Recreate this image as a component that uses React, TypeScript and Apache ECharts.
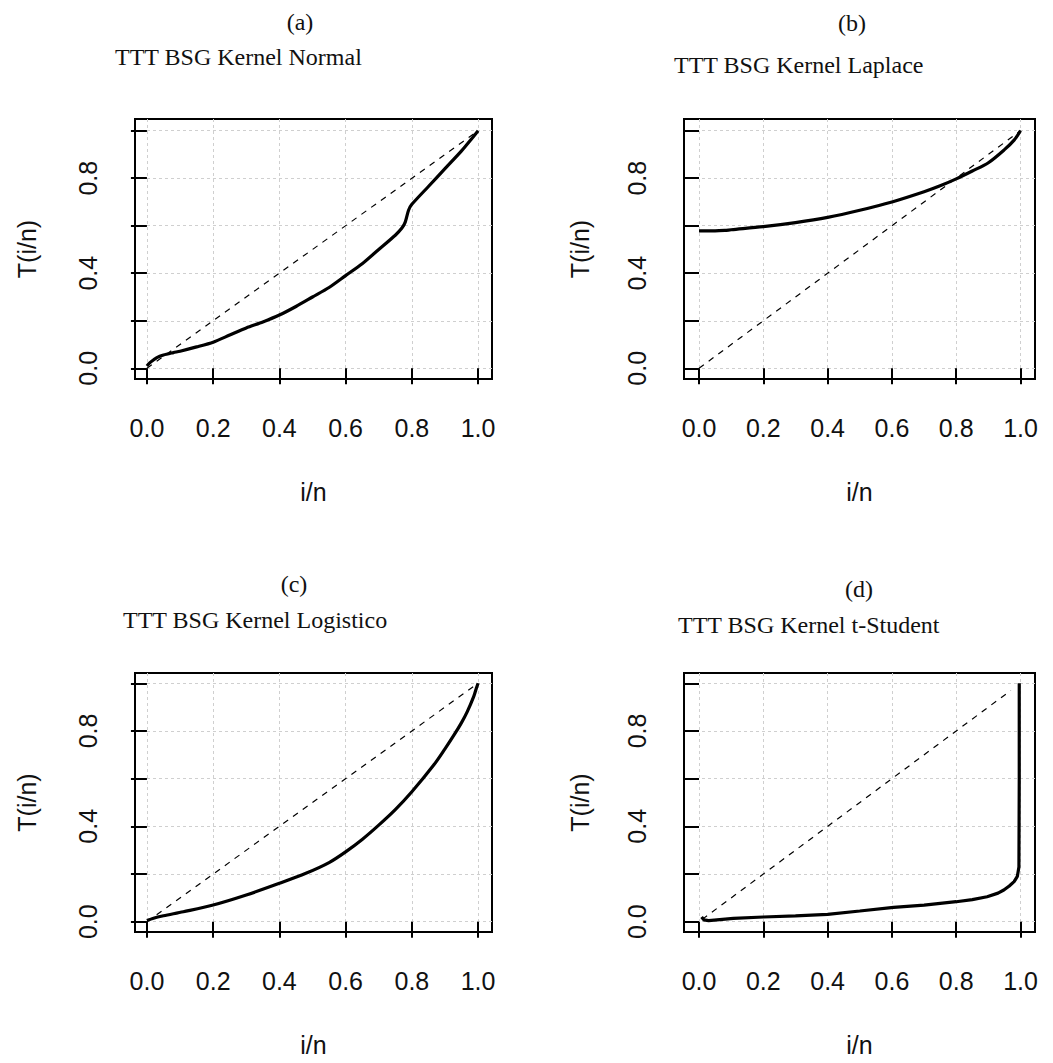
import React, { useEffect, useRef } from "react";
import * as echarts from "echarts";

// Tick positions shared by every panel
const xTicks = [0, 0.2, 0.4, 0.6, 0.8, 1.0];
const yTicks = [0, 0.2, 0.4, 0.6, 0.8, 1.0];
const yLabels = [0, 0.4, 0.8];

// (a) Kernel Normal
const normalX = [0, 0.01, 0.03, 0.05, 0.08, 0.1, 0.15, 0.2, 0.25, 0.3, 0.35, 0.4, 0.45, 0.5, 0.55, 0.6, 0.65, 0.7, 0.75, 0.77, 0.78, 0.79, 0.8, 0.85, 0.9, 0.95, 0.98, 1.0];
const normalY = [0.01, 0.025, 0.045, 0.056, 0.066, 0.072, 0.09, 0.11, 0.14, 0.17, 0.195, 0.224, 0.26, 0.30, 0.34, 0.39, 0.44, 0.50, 0.56, 0.59, 0.615, 0.665, 0.69, 0.765, 0.84, 0.915, 0.965, 1.0];

// (b) Kernel Laplace
const laplaceX = [0, 0.05, 0.08, 0.1, 0.2, 0.3, 0.4, 0.5, 0.6, 0.7, 0.75, 0.8, 0.85, 0.9, 0.95, 0.98, 1.0];
const laplaceY = [0.578, 0.578, 0.58, 0.583, 0.596, 0.613, 0.635, 0.665, 0.70, 0.743, 0.768, 0.797, 0.83, 0.865, 0.92, 0.96, 1.0];

// (c) Kernel Logistico
const logisticX = [0, 0.02, 0.05, 0.11, 0.2, 0.3, 0.4, 0.48, 0.55, 0.6, 0.65, 0.7, 0.75, 0.8, 0.866, 0.9, 0.926, 0.95, 0.967, 0.987, 0.995, 1.0];
const logisticY = [0.005, 0.015, 0.025, 0.042, 0.07, 0.112, 0.161, 0.203, 0.248, 0.293, 0.345, 0.405, 0.47, 0.545, 0.657, 0.725, 0.78, 0.835, 0.88, 0.945, 0.98, 1.0];

// (d) Kernel t-Student
const studentX = [0.008, 0.015, 0.03, 0.107, 0.2, 0.3, 0.4, 0.5, 0.605, 0.7, 0.8, 0.85, 0.896, 0.93, 0.948, 0.965, 0.98, 0.99, 0.995, 0.996, 0.996];
const studentY = [0.02, 0.008, 0.005, 0.014, 0.02, 0.025, 0.031, 0.045, 0.06, 0.07, 0.084, 0.093, 0.105, 0.12, 0.133, 0.15, 0.168, 0.19, 0.23, 0.6, 1.0];

// Reference diagonals
const diagX = [0, 1];
const diagY = [0, 1];
const diagStudentX = [0.01, 0.97];
const diagStudentY = [0.01, 0.97];

const tags = ["(a)", "(b)", "(c)", "(d)"];
const titles = [
  "TTT BSG Kernel Normal",
  "TTT BSG Kernel Laplace",
  "TTT BSG Kernel Logistico",
  "TTT BSG Kernel t-Student",
];

const zip = (xs: number[], ys: number[]) => xs.map((x, i) => [x, ys[i]]);

const panels = [
  {
    box: { left: 135, top: 119, width: 357, height: 260 },
    xr: [-0.036, 1.042], yr: [-0.045, 1.049], yNameGap: 96, smooth: 0.25,
    curve: zip(normalX, normalY), diag: zip(diagX, diagY),
    tag: { x: 300, y: 22 }, title: { x: 115, y: 57 },
  },
  {
    box: { left: 684, top: 119, width: 351, height: 260 },
    xr: [-0.0467, 1.045], yr: [-0.045, 1.049], yNameGap: 92, smooth: 0.3,
    curve: zip(laplaceX, laplaceY), diag: zip(diagX, diagY),
    tag: { x: 852, y: 23 }, title: { x: 674, y: 65 },
  },
  {
    box: { left: 135, top: 673, width: 357, height: 259 },
    xr: [-0.036, 1.042], yr: [-0.043, 1.043], yNameGap: 96, smooth: 0.3,
    curve: zip(logisticX, logisticY), diag: zip(diagX, diagY),
    tag: { x: 294, y: 584 }, title: { x: 123, y: 620 },
  },
  {
    box: { left: 684, top: 673, width: 351, height: 259 },
    xr: [-0.0467, 1.045], yr: [-0.043, 1.043], yNameGap: 92, smooth: 0,
    curve: zip(studentX, studentY), diag: zip(diagStudentX, diagStudentY),
    tag: { x: 859, y: 589 }, title: { x: 678, y: 625 },
  },
];

const sans = "'Liberation Sans', Arial, sans-serif";
const serif = "'Liberation Serif', 'Times New Roman', serif";

export default function App() {
  const ref = useRef<HTMLDivElement>(null);

  useEffect(() => {
    if (!ref.current) return;
    const chart = echarts.init(ref.current, null, { renderer: "svg" });

    const grid = panels.map((p) => ({
      ...p.box,
      show: true,
      borderColor: "#000",
      borderWidth: 2,
      backgroundColor: "transparent",
      containLabel: false,
    }));

    const splitLine = {
      show: true,
      lineStyle: { color: "#cfcfcf", type: [3, 3], width: 1 },
    };
    const tick = { show: true, length: 16, lineStyle: { color: "#000", width: 2 } };
    const labelFont = { fontSize: 25, fontFamily: sans, color: "#111" };

    const xAxis = panels.map((p, i) => ({
      type: "value",
      gridIndex: i,
      min: p.xr[0],
      max: p.xr[1],
      axisLine: { show: false },
      axisTick: { ...tick, customValues: xTicks },
      axisLabel: {
        ...labelFont,
        margin: 36,
        customValues: xTicks,
        formatter: (v: number) => v.toFixed(1),
      },
      splitLine,
      name: "i/n",
      nameLocation: "middle",
      nameGap: 100,
      nameTextStyle: { ...labelFont },
    }));

    const yAxis = panels.map((p, i) => ({
      type: "value",
      gridIndex: i,
      min: p.yr[0],
      max: p.yr[1],
      axisLine: { show: false },
      axisTick: { ...tick, customValues: yTicks },
      axisLabel: {
        ...labelFont,
        margin: 35,
        rotate: 90,
        customValues: yLabels,
        formatter: (v: number) => v.toFixed(1),
      },
      splitLine,
      name: "T(i/n)",
      nameLocation: "middle",
      nameGap: p.yNameGap,
      nameTextStyle: { ...labelFont },
    }));

    const series: any[] = [];
    panels.forEach((p, i) => {
      series.push({
        type: "line",
        xAxisIndex: i,
        yAxisIndex: i,
        data: p.diag,
        showSymbol: false,
        lineStyle: { color: "#000", width: 1.2, type: [6, 6] },
        z: 3,
      });
      series.push({
        type: "line",
        xAxisIndex: i,
        yAxisIndex: i,
        data: p.curve,
        showSymbol: false,
        smooth: p.smooth,
        lineStyle: { color: "#000", width: 3.2 },
        z: 4,
      });
    });

    const graphic: any[] = [];
    panels.forEach((p, i) => {
      graphic.push({
        type: "text",
        x: p.tag.x,
        y: p.tag.y,
        style: {
          text: tags[i],
          font: `24px ${serif}`,
          fill: "#111",
          align: "center",
          verticalAlign: "middle",
        },
      });
      graphic.push({
        type: "text",
        x: p.title.x,
        y: p.title.y,
        style: {
          text: titles[i],
          font: `24px ${serif}`,
          fill: "#111",
          align: "left",
          verticalAlign: "middle",
        },
      });
    });

    chart.setOption({
      animation: false,
      backgroundColor: "#fff",
      grid,
      xAxis,
      yAxis,
      series,
      graphic,
    });

    return () => chart.dispose();
  }, []);

  return (
    <div
      ref={ref}
      style={{ position: "absolute", left: 0, top: 0, width: 1053, height: 1063 }}
    />
  );
}
